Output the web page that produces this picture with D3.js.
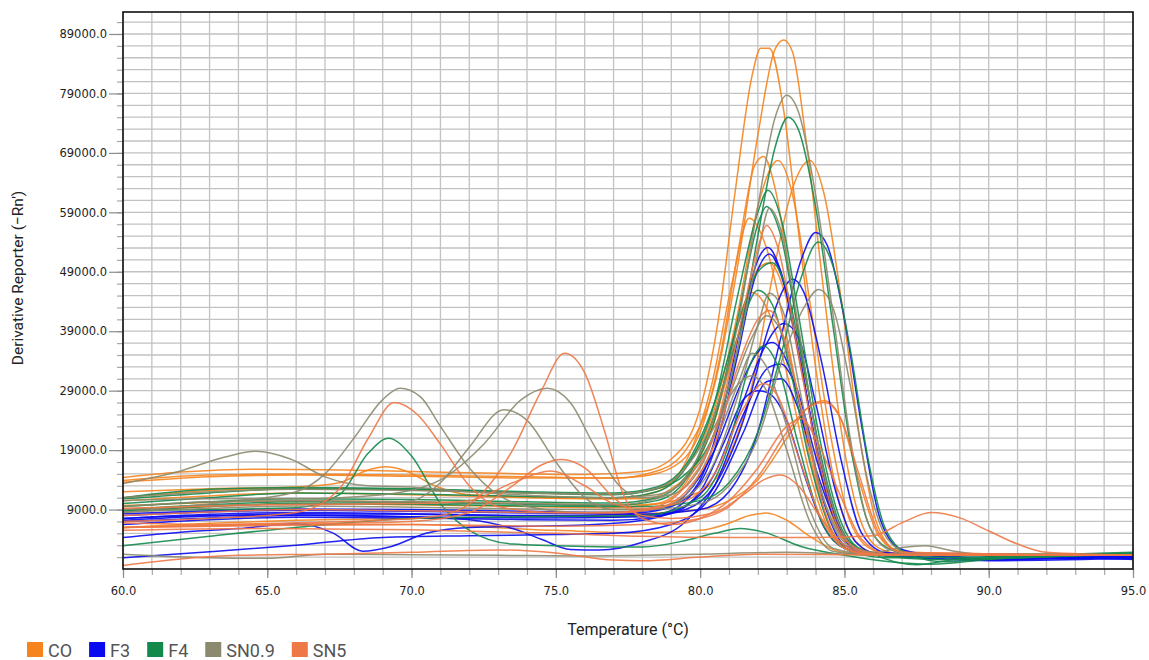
<!DOCTYPE html>
<html>
<head>
<meta charset="utf-8">
<script src="https://cdn.jsdelivr.net/npm/d3@7"></script>
<style>
  html, body { margin: 0; padding: 0; background: #fff; }
  svg { display: block; }
</style>
</head>
<body>
<div id="chart"></div>
<script>
// melt curve data: [temperature °C, derivative reporter]
const sampleNames = ['CO', 'F3', 'F4', 'SN0.9', 'SN5'];
const sampleColors = ['#f5841f', '#0a0af0', '#138a4c', '#8c8a6e', '#ee7846'];

const xMajorTicks = [60, 65, 70, 75, 80, 85, 90, 95];
const xMinorTicks = [60, 61, 62, 63, 64, 65, 66, 67, 68, 69, 70, 71, 72, 73, 74, 75, 76, 77,
  78, 79, 80, 81, 82, 83, 84, 85, 86, 87, 88, 89, 90, 91, 92, 93, 94, 95];
const yMajorTicks = [9000, 19000, 29000, 39000, 49000, 59000, 69000, 79000, 89000];
const yMinorTicks = [1000, 3000, 5000, 7000, 9000, 11000, 13000, 15000, 17000, 19000, 21000,
  23000, 25000, 27000, 29000, 31000, 33000, 35000, 37000, 39000, 41000, 43000, 45000, 47000,
  49000, 51000, 53000, 55000, 57000, 59000, 61000, 63000, 65000, 67000, 69000, 71000, 73000,
  75000, 77000, 79000, 81000, 83000, 85000, 87000, 89000, 91000];

const coCurves = [
  [[60,14400],[62,15300],[64.5,15800],[67,15700],[70,15400],[73,15100],[76,14900],[78,15400],[79,17500],[80,26000],[80.6,40000],[81.2,62000],[81.8,82000],[82.1,86600],[82.4,86600],[82.9,76000],[83.4,56000],[84,33000],[84.6,15000],[85.2,5000],[86,1800],[88,1400],[95,1300]],
  [[60,13600],[63,14500],[66,14800],[70,14600],[74,14300],[77,14300],[78.5,15500],[79.5,19000],[80.5,30000],[81.3,50000],[82,72000],[82.6,86500],[82.9,88000],[83.2,86000],[83.7,70000],[84.3,45000],[84.9,22000],[85.5,8000],[86.2,2500],[87,1500],[95,1300]],
  [[60,13900],[63,14800],[66,15000],[70,14800],[74,14500],[77,14300],[78,14600],[79,16000],[80,22000],[80.7,35000],[81.3,52000],[81.9,67000],[82.2,68400],[82.6,63000],[83.2,45000],[83.8,25000],[84.5,9000],[85.3,2500],[86.5,1500],[95,1300]],
  [[60,11000],[63,12200],[66,12600],[70,12300],[74,11800],[77,11600],[78.5,12500],[79.5,16000],[80.5,26000],[81.3,42000],[82,60000],[82.7,67700],[83.2,62000],[83.8,44000],[84.5,22000],[85.2,7000],[86,2200],[87,1400],[95,1300]],
  [[60,9700],[63,10200],[66,10500],[70,10300],[74,10000],[78,9800],[80,12000],[81,18000],[81.8,30000],[82.5,48000],[83.2,63000],[83.8,67700],[84.3,62000],[84.9,44000],[85.5,22000],[86.1,7000],[86.8,2200],[88,1500],[95,1300]],
  [[60,10500],[63,11300],[66,11800],[70,11500],[74,11000],[77,10800],[78.5,12000],[79.5,17000],[80.4,30000],[81.1,47000],[81.7,58000],[82.3,53000],[83,38000],[83.8,18000],[84.5,6000],[85.3,2000],[86.5,1400],[95,1300]],
  [[60,12000],[63,12500],[66,12800],[67.5,13500],[68.4,15500],[69.1,16200],[69.8,15500],[70.8,13000],[72,11500],[75,11000],[78,10800],[79,12500],[80,18000],[80.8,30000],[81.4,42000],[81.8,45500],[82.3,43000],[83,32000],[83.8,15000],[84.6,4500],[85.5,1700],[95,1300]],
  [[60,8800],[63,9500],[66,10000],[70,9800],[74,9500],[77,9300],[78.5,10000],[79.5,13500],[80.5,24000],[81.3,38000],[82,49500],[82.4,50500],[82.9,46000],[83.6,30000],[84.3,13000],[85,4000],[86,1600],[95,1300]],
  [[60,6000],[63,6700],[66,7200],[70,7500],[74,7800],[78,8300],[80,9000],[81,10500],[82,14000],[83,21000],[83.7,26000],[84.3,27300],[84.9,24000],[85.5,14000],[86.2,4500],[87,1800],[95,1300]],
  [[60,6000],[65,6500],[70,6500],[75,5500],[78,5100],[80,5500],[81,6700],[81.7,8000],[82.3,8400],[83,7200],[83.8,4500],[84.6,2300],[85.5,1500],[95,1300]]
];

const f3Curves = [
  [[60,8000],[63,8600],[66,8900],[70,8700],[74,8400],[77,8300],[78,8500],[79,9500],[80,14000],[80.8,26000],[81.5,42000],[82,51000],[82.35,53100],[82.8,49000],[83.4,36000],[84,20000],[84.7,7500],[85.4,2500],[86.5,1500],[88,1400],[90,700],[92,1200],[95,1100]],
  [[60,7200],[63,7900],[66,8300],[70,8200],[74,7900],[77,7800],[78.5,8200],[79.5,10500],[80.5,19000],[81.3,35000],[81.9,48000],[82.4,52000],[82.9,47000],[83.5,33000],[84.2,16000],[84.9,5000],[85.6,1800],[87,1300],[89,600],[91,900],[95,700]],
  [[60,7500],[63,8200],[66,8500],[70,8300],[74,8000],[78,8200],[80,9000],[81,12000],[82,22000],[82.8,38000],[83.5,51000],[84,55600],[84.4,53500],[85,41000],[85.6,23000],[86.2,8000],[86.9,2500],[88,1300],[90,600],[92,800],[95,1000]],
  [[60,7000],[63,7600],[66,8000],[70,7800],[74,7600],[78,7800],[79.5,9000],[80.5,13000],[81.5,24000],[82.4,40000],[83,47000],[83.2,47800],[83.6,45500],[84.2,34000],[84.9,17000],[85.6,5000],[86.4,1800],[88,1200],[90,500],[93,900],[95,600]],
  [[60,6500],[63,7300],[66,7700],[70,7600],[74,7300],[77,7200],[78.5,7800],[79.5,9500],[80.5,15000],[81.4,26000],[82.2,36000],[82.9,40300],[83.4,38000],[84,27000],[84.7,12000],[85.4,3500],[86.2,1500],[88,1300],[95,1100]],
  [[60,8300],[63,8800],[66,9100],[70,9000],[74,8700],[77,8500],[78.5,9000],[79.5,11500],[80.5,19000],[81.4,30000],[82,35500],[82.5,37100],[83,34000],[83.6,24000],[84.3,10000],[85,3000],[86,1500],[95,1200]],
  [[60,4300],[62,5200],[64,5800],[66,6600],[67.3,5000],[68.3,2000],[69.3,2800],[70.5,5000],[72,6000],[74,6200],[76,6400],[78,7200],[79,8500],[80,12000],[80.8,20000],[81.5,27500],[82,29000],[82.4,28500],[83,24000],[83.6,15000],[84.3,6000],[85,2500],[86,1500],[88,1300],[95,1200]],
  [[60,900],[63,1900],[66,3000],[69,4300],[72,4600],[75,4800],[77,5000],[79,6500],[80.5,12000],[81.5,22000],[82.3,30500],[82.8,31000],[83.4,26000],[84,16000],[84.8,6000],[85.6,2000],[87,1200],[89,1600],[91,700],[95,900]],
  [[60,7500],[63,8000],[66,8100],[70,7800],[72,7300],[73.5,5800],[74.5,4000],[75.5,2300],[76.5,2200],[78,3500],[79.5,7000],[80.5,13000],[81.5,25000],[82.4,33000],[82.8,33500],[83.3,30000],[84,18000],[84.7,7000],[85.5,2000],[87,1000],[90,400],[95,800]]
];

const f4Curves = [
  [[60,10800],[63,11800],[66,12500],[70,12400],[74,11800],[77,11500],[78.5,12500],[79.5,15000],[80.5,22000],[81.3,36000],[82,55000],[82.6,70000],[83.05,75000],[83.4,73000],[84,60000],[84.6,40000],[85.2,20000],[85.8,7000],[86.5,2500],[87.5,1300],[95,1600]],
  [[60,10000],[63,11000],[66,11800],[70,11600],[74,11200],[77,11000],[78.5,12000],[79.5,16000],[80.5,27000],[81.3,45000],[82,59000],[82.35,62700],[82.8,58000],[83.4,42000],[84.1,22000],[84.8,8000],[85.5,2500],[86.5,1200],[88,600],[95,1700]],
  [[60,9500],[63,10300],[66,10800],[70,10700],[74,10300],[77,10100],[78.5,11000],[79.5,14500],[80.5,24000],[81.3,41000],[82,57000],[82.3,60000],[82.8,55000],[83.4,39000],[84.1,20000],[84.8,7000],[85.5,2200],[86.5,1200],[95,1500]],
  [[60,8800],[63,9500],[66,10000],[70,9900],[74,9600],[78,9500],[80,10500],[81,13500],[82,22000],[82.8,35000],[83.5,48000],[84.1,54000],[84.6,50000],[85.2,36000],[85.8,18000],[86.4,6000],[87.2,1500],[88.5,200],[90,800],[95,1800]],
  [[60,9000],[63,9800],[66,10300],[70,10200],[74,9900],[77,9700],[78.5,10500],[79.5,14000],[80.5,25000],[81.3,38000],[82,45900],[82.5,43500],[83.1,33000],[83.8,17000],[84.5,6000],[85.3,1800],[86.5,900],[95,1400]],
  [[60,8800],[63,9000],[66,9300],[67.5,11500],[68.5,18500],[69.2,21000],[70,18000],[71,10000],[72,5500],[73.5,3200],[76,2800],[78,2700],[79.5,3800],[80.5,5000],[81.4,5800],[82.2,5200],[83.5,2800],[85,1300],[88,-200],[90,600],[95,1500]],
  [[60,2900],[63,4500],[66,6000],[70,7500],[74,7800],[78,8000],[80,11000],[81,20000],[81.7,33000],[82.2,36500],[82.7,33000],[83.4,20000],[84.2,7000],[85,2500],[86,1300],[95,1400]],
  [[60,11000],[63,12400],[66,12700],[70,12500],[74,12000],[77,11800],[78.5,12800],[79.5,16500],[80.5,27000],[81.3,40000],[82,49000],[82.5,50500],[83,46000],[83.7,30000],[84.4,13000],[85.1,4000],[86,1500],[87.5,-300],[89,700],[95,1500]]
];

const sn09Curves = [
  [[60,11000],[63,12000],[66,12400],[70,12200],[74,11800],[77,11600],[78.5,12600],[79.5,16000],[80.5,25000],[81.3,40000],[82,60000],[82.6,75000],[83,78700],[83.4,76000],[84,62000],[84.6,42000],[85.2,21000],[85.8,7000],[86.5,2400],[87.5,1500],[95,1400]],
  [[60,13400],[62,15500],[63.5,17800],[64.6,18800],[65.8,17500],[67,14500],[68.5,13000],[70,12800],[72,12000],[75,11200],[77,11000],[78.5,11500],[79.5,14000],[80.5,22000],[81.3,36000],[82,52000],[82.4,59700],[82.8,56000],[83.4,40000],[84,22000],[84.7,8000],[85.4,2500],[86.5,1500],[95,1400]],
  [[60,8500],[62,9500],[64,10500],[66,12000],[67,15000],[68,21000],[69,27500],[69.6,29400],[70.3,28000],[71,23000],[72,16000],[73,11500],[74,9500],[76,8500],[78,8800],[79.5,11000],[80.5,17000],[81.3,28000],[82,40000],[82.4,45400],[82.9,42000],[83.5,28000],[84.2,12000],[85,3500],[86,1500],[95,1400]],
  [[60,9000],[64,9800],[68,10000],[70,10500],[71,13500],[72,19500],[73.2,25800],[74,24000],[75,17000],[76,11000],[77,9000],[78.5,9200],[79.5,11500],[80.5,20000],[81.3,30000],[81.8,35300],[82.3,33000],[83,23000],[83.8,9000],[84.6,2500],[86,1400],[95,1300]],
  [[60,10500],[63,10800],[66,10800],[69,11500],[71,14000],[72.5,20000],[73.8,27500],[74.7,29400],[75.5,27000],[76.3,20000],[77.2,13000],[78,11000],[79,11500],[80,16000],[81,28000],[81.8,38000],[82.3,41600],[82.8,39000],[83.5,26000],[84.2,12000],[85,4000],[86,1800],[87,2600],[87.8,2900],[88.8,2000],[90,1400],[95,1400]],
  [[60,1500],[63,900],[65,800],[67,1500],[70,1400],[73,1300],[76,1200],[78,1300],[80,1500],[83,1800],[85,1500],[88,1300],[95,1300]],
  [[60,8500],[63,9200],[66,9600],[70,9400],[74,9100],[78,9000],[80,10000],[81,13000],[82,21000],[82.9,35000],[83.6,43000],[84.1,46000],[84.6,43000],[85.2,30000],[85.8,14000],[86.5,4000],[87.3,1500],[95,1300]],
  [[60,9500],[63,10300],[66,10500],[70,10300],[74,10000],[77,9800],[78.5,10800],[79.5,14500],[80.5,23000],[81.3,30000],[81.8,31500],[82.3,29000],[83,19000],[83.8,7000],[84.6,2000],[86,1300],[95,1300]]
];

const sn5Curves = [
  [[60,7000],[63,7500],[66,8500],[67.5,12500],[68.5,21000],[69.4,27000],[70.2,25000],[71,20000],[72,13000],[73,9500],[75,8500],[77,8500],[78.5,9500],[79.5,13000],[80.5,22000],[81.3,38000],[82,53000],[82.3,56800],[82.7,53000],[83.3,38000],[84,20000],[84.7,7000],[85.5,2200],[86.5,1400],[95,1300]],
  [[60,6800],[63,6500],[66,6800],[69,7200],[71,8000],[72.5,12000],[73.5,19000],[74.5,29000],[75.3,35300],[76,32000],[76.7,22000],[77.3,12000],[78,7500],[79,6500],[80,7500],[81,10500],[82,16000],[83,23000],[83.5,24300],[84,21000],[84.8,12000],[85.6,4000],[86.5,1500],[95,1300]],
  [[60,6000],[65,6500],[70,7000],[72,8500],[73.5,13000],[74.5,16500],[75.2,17400],[76,16000],[77,11000],[78,8000],[79,7500],[80.5,8500],[81.5,11500],[82.2,14000],[82.8,14800],[83.4,13000],[84.2,7500],[85,3000],[86,1500],[95,1300]],
  [[60,9200],[65,9800],[70,10000],[72,10500],[73.5,13500],[74.8,15500],[76,13000],[77,10000],[78,9200],[79.5,10500],[80.5,15000],[81.5,26000],[82.2,30200],[82.7,28000],[83.4,18000],[84.2,7500],[85,2500],[86,1400],[95,1300]],
  [[60,6000],[65,6300],[70,6500],[75,6200],[78,6500],[80,7500],[81,9500],[82,14500],[83,22000],[83.7,26000],[84.3,27000],[84.9,24000],[85.5,15000],[86.2,5000],[87,1800],[95,1300]],
  [[60,5500],[65,5800],[70,5600],[75,5000],[78,4500],[81,4300],[84,4300],[86,4600],[87,6800],[88,8500],[89,7600],[90,5400],[91,3200],[92,1800],[95,1300]],
  [[60,-400],[62,700],[64,1300],[67,1500],[70,1800],[73,2200],[75,1700],[77,500],[78,400],[80,1000],[82,1500],[85,1400],[95,1300]],
  [[60,8000],[63,8600],[66,9000],[70,8800],[74,8500],[77,8400],[78.5,9200],[79.5,12000],[80.5,20000],[81.3,33000],[82,41000],[82.4,42500],[82.9,38000],[83.6,24000],[84.3,9000],[85,2500],[86,1400],[95,1300]]
];

const seriesCurves = [coCurves, f3Curves, f4Curves, sn09Curves, sn5Curves];

const W = 1149, H = 660;
const m = { t: 12, r: 16, b: 91, l: 123 };
const tickFont = '"DejaVu Sans", Verdana, sans-serif';
const titleFont = 'Roboto, "Open Sans", sans-serif';

const svg = d3.select('#chart').append('svg')
  .attr('width', W)
  .attr('height', H);

const x = d3.scaleLinear().domain([60, 95]).range([m.l, W - m.r]);
const y = d3.scaleLinear().domain([-1000, 92700]).range([H - m.b, m.t]);

// grid
const grid = svg.append('g');
grid.selectAll('line.v')
  .data(xMinorTicks)
  .join('line')
  .attr('x1', d => x(d)).attr('x2', d => x(d))
  .attr('y1', y.range()[1]).attr('y2', y.range()[0])
  .attr('stroke', '#c2c2c2').attr('stroke-width', 1.3);
grid.selectAll('line.h')
  .data(yMinorTicks)
  .join('line')
  .attr('x1', x.range()[0]).attr('x2', x.range()[1])
  .attr('y1', d => y(d)).attr('y2', d => y(d))
  .attr('stroke', '#c2c2c2').attr('stroke-width', 1.3);

// curves
svg.append('clipPath').attr('id', 'plot-clip')
  .append('rect')
  .attr('x', m.l).attr('y', m.t)
  .attr('width', W - m.r - m.l).attr('height', H - m.b - m.t);

const line = d3.line()
  .x(d => x(d[0]))
  .y(d => y(d[1]))
  .curve(d3.curveMonotoneX);

const curvesG = svg.append('g').attr('clip-path', 'url(#plot-clip)');
seriesCurves.forEach((curves, i) => {
  curvesG.append('g').selectAll('path')
    .data(curves)
    .join('path')
    .attr('d', line)
    .attr('fill', 'none')
    .attr('stroke', sampleColors[i])
    .attr('stroke-width', 1.5)
    .attr('stroke-opacity', 0.9);
});

// axes
const styleAxis = (g, col) => {
  g.attr('font-family', tickFont).attr('font-size', 11.5);
  g.select('.domain').remove();
  g.selectAll('line').attr('stroke', col).attr('stroke-width', 1.2);
  g.selectAll('text').attr('fill', '#1e1e1e');
};

svg.append('g')
  .attr('transform', `translate(${m.l},0)`)
  .call(d3.axisLeft(y).tickValues(yMinorTicks).tickSize(6).tickFormat(''))
  .call(g => styleAxis(g, '#a8a8a8'));
svg.append('g')
  .attr('transform', `translate(${m.l},0)`)
  .call(d3.axisLeft(y).tickValues(yMajorTicks).tickSize(14).tickPadding(2).tickFormat(d3.format('.1f')))
  .call(g => styleAxis(g, '#8c8c8c'));

svg.append('g')
  .attr('transform', `translate(0,${H - m.b})`)
  .call(d3.axisBottom(x).tickValues(xMinorTicks).tickSize(6).tickFormat(''))
  .call(g => styleAxis(g, '#a8a8a8'));
svg.append('g')
  .attr('transform', `translate(0,${H - m.b})`)
  .call(d3.axisBottom(x).tickValues(xMajorTicks).tickSize(9).tickPadding(9).tickFormat(d3.format('.1f')))
  .call(g => styleAxis(g, '#8c8c8c'));

// frame
svg.append('rect')
  .attr('x', m.l).attr('y', m.t)
  .attr('width', W - m.r - m.l).attr('height', H - m.b - m.t)
  .attr('fill', 'none')
  .attr('stroke', '#111')
  .attr('stroke-width', 1.6);

// titles
svg.append('text')
  .attr('x', (m.l + W - m.r) / 2)
  .attr('y', 635)
  .attr('text-anchor', 'middle')
  .attr('fill', '#222')
  .attr('font-family', titleFont)
  .attr('font-size', 16)
  .text('Temperature (°C)');

svg.append('text')
  .attr('transform', 'translate(23,278) rotate(-90)')
  .attr('text-anchor', 'middle')
  .attr('fill', '#222')
  .attr('font-family', titleFont)
  .attr('font-size', 15.5)
  .text('Derivative Reporter (−Rn′)');

// legend
const legend = svg.append('g').attr('transform', 'translate(27,642)');
let lx = 0;
sampleNames.forEach((name, i) => {
  const item = legend.append('g').attr('transform', `translate(${lx},0)`);
  item.append('rect')
    .attr('width', 16).attr('height', 15)
    .attr('fill', sampleColors[i]);
  const t = item.append('text')
    .attr('x', 21).attr('y', 14.5)
    .attr('fill', '#555')
    .attr('font-family', titleFont)
    .attr('font-size', 18)
    .text(name);
  lx += 21 + t.node().getComputedTextLength() + 17;
});
</script>
</body>
</html>
